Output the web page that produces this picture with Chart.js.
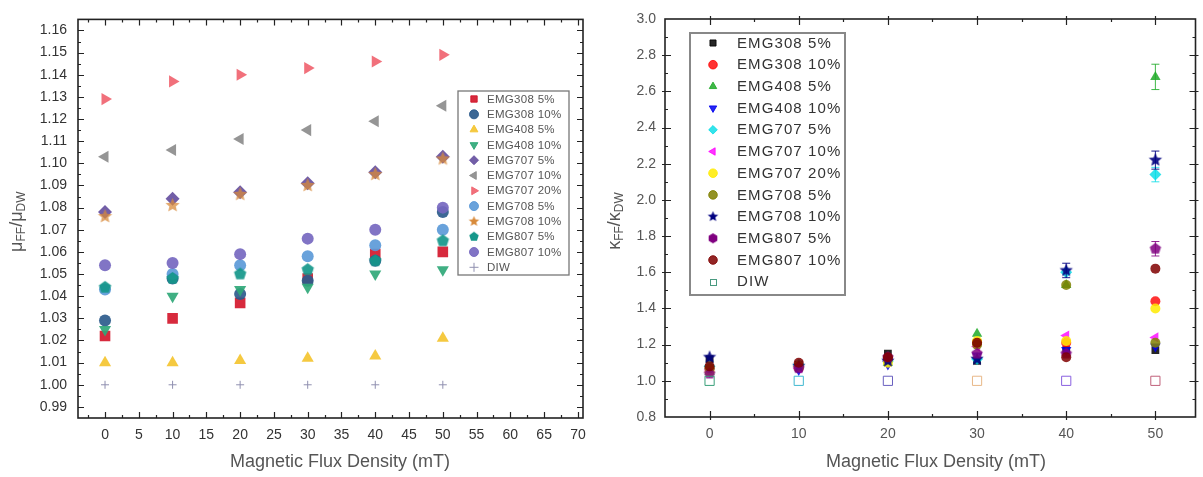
<!DOCTYPE html>
<html><head><meta charset="utf-8">
<script src="https://cdn.jsdelivr.net/npm/chart.js@4.4.0/dist/chart.umd.min.js"></script>
<style>
html,body{margin:0;padding:0;background:#fff;}
#wrap{position:relative;width:1203px;height:477px;background:#fff;}
canvas{position:absolute;top:0;}
#c1{left:0;} #c2{left:600px;}
</style></head><body>
<div id="wrap"><canvas id="c1" width="600" height="477"></canvas><canvas id="c2" width="603" height="477"></canvas></div>
<script>
// ---------- DATA ----------
const fieldMT = [0, 10, 20, 30, 40, 50];
const seriesNames = ['EMG308 5%','EMG308 10%','EMG408 5%','EMG408 10%','EMG707 5%','EMG707 10%','EMG707 20%','EMG708 5%','EMG708 10%','EMG807 5%','EMG807 10%','DIW'];

// viscosity ratio mu_FF / mu_DW (left)
const mu_EMG308_5  = [1.022, 1.030, 1.037, 1.048, 1.059, 1.060];
const mu_EMG308_10 = [1.029, 1.048, 1.041, 1.047, 1.056, 1.078];
const mu_EMG408_5  = [1.010, 1.010, 1.011, 1.012, 1.013, 1.021];
const mu_EMG408_10 = [1.025, 1.040, 1.043, 1.044, 1.050, 1.052];
const mu_EMG707_5  = [1.078, 1.084, 1.087, 1.091, 1.096, 1.103];
const mu_EMG707_10 = [1.103, 1.106, 1.111, 1.115, 1.119, 1.126];
const mu_EMG707_20 = [1.129, 1.137, 1.140, 1.143, 1.146, 1.149];
const mu_EMG708_5  = [1.043, 1.050, 1.054, 1.058, 1.063, 1.070];
const mu_EMG708_10 = [1.076, 1.081, 1.086, 1.090, 1.095, 1.102];
const mu_EMG807_5  = [1.044, 1.048, 1.050, 1.052, 1.056, 1.065];
const mu_EMG807_10 = [1.054, 1.055, 1.059, 1.066, 1.070, 1.080];
const mu_DIW       = [1.000, 1.000, 1.000, 1.000, 1.000, 1.000];

// thermal conductivity ratio k_FF / k_DW (right)
const k_EMG308_5  = [1.12, 1.09, 1.15, 1.11, 1.17, 1.17];
const k_EMG308_10 = [1.07, 1.07, 1.12, 1.21, 1.21, 1.44];
const k_EMG408_5  = [1.05, 1.08, 1.10, 1.26, 1.53, 2.68];
const k_EMG408_10 = [1.05, 1.06, 1.09, 1.14, 1.17, 1.19];
const k_EMG707_5  = [1.08, 1.09, 1.11, 1.12, 1.60, 2.14];
const k_EMG707_10 = [1.06, 1.07, 1.11, 1.19, 1.25, 1.24];
const k_EMG707_20 = [1.05, 1.08, 1.10, 1.22, 1.22, 1.40];
const k_EMG708_5  = [1.07, 1.08, 1.12, 1.20, 1.53, 1.21];
const k_EMG708_10 = [1.13, 1.08, 1.11, 1.12, 1.61, 2.22];
const k_EMG807_5  = [1.04, 1.07, 1.13, 1.15, 1.15, 1.73];
const k_EMG807_10 = [1.08, 1.10, 1.13, 1.21, 1.13, 1.62];
const k_DIW       = [1.00, 1.00, 1.00, 1.00, 1.00, 1.00];

// error bars of k ratio
const kErr_EMG408_5  = [0.02, 0.02, 0.02, 0.03, 0.03, 0.07];
const kErr_EMG707_5  = [0.02, 0.02, 0.02, 0.02, 0.03, 0.04];
const kErr_EMG708_10 = [0.02, 0.02, 0.02, 0.02, 0.04, 0.05];
const kErr_EMG807_5  = [0.02, 0.02, 0.02, 0.02, 0.02, 0.04];
const kErr_EMG807_10 = [0.02, 0.02, 0.02, 0.02, 0.02, 0.03];
const kErr_default   = [0.02, 0.02, 0.02, 0.02, 0.02, 0.02];

// tick labels
const muXTicks = [0,5,10,15,20,25,30,35,40,45,50,55,60,65,70];
const muYTicks = [0.99,1.00,1.01,1.02,1.03,1.04,1.05,1.06,1.07,1.08,1.09,1.10,1.11,1.12,1.13,1.14,1.15,1.16];
const kXTicks = [0,10,20,30,40,50];
const kYTicks = [0.8,1.0,1.2,1.4,1.6,1.8,2.0,2.2,2.4,2.6,2.8,3.0];

// ---------- HELPERS ----------
const FONT = "'Liberation Sans', Arial, sans-serif";
function steps(a, b, s) { const out = []; const n = Math.round((b - a) / s); for (let i = 0; i <= n; i++) out.push(+(a + i * s).toFixed(4)); return out; }
function makePoly(color, r, n, rot) {
  const s = Math.ceil(2 * r + 2); const c = document.createElement('canvas'); c.width = c.height = s;
  const g = c.getContext('2d'); g.fillStyle = color; g.beginPath();
  for (let k = 0; k < n; k++) { const a = (rot || -Math.PI / 2) + k * 2 * Math.PI / n; g.lineTo(s / 2 + r * Math.cos(a), s / 2 + r * Math.sin(a)); }
  g.closePath(); g.fill(); return c;
}
function makeStar(color, r) {
  const s = Math.ceil(2 * r + 2); const c = document.createElement('canvas'); c.width = c.height = s;
  const g = c.getContext('2d'); g.fillStyle = color; g.beginPath();
  for (let k = 0; k < 10; k++) { const rr = k % 2 ? r * 0.45 : r; const a = -Math.PI / 2 + k * Math.PI / 5; g.lineTo(s / 2 + rr * Math.cos(a), s / 2 + rr * Math.sin(a)); }
  g.closePath(); g.fill(); return c;
}
function mk(i, label, vals, style, color, radius, extra) {
  return Object.assign({
    label, order: -i,
    data: fieldMT.map((x, j) => ({ x, y: vals[j] })),
    pointStyle: style, pointRadius: radius, pointHoverRadius: radius,
    backgroundColor: color, borderColor: color, borderWidth: 0, pointRotation: 0, showLine: false
  }, extra || {});
}

// ---------- PLUGINS ----------
const framePlugin = {
  id: 'frameTicks',
  afterDraw(chart, args, o) {
    const { ctx, chartArea: a, scales: { x, y } } = chart;
    ctx.save();
    ctx.strokeStyle = o.color; ctx.lineWidth = 1.2;
    const tick = (vals, len, isX, out) => {
      vals.forEach(v => {
        ctx.beginPath();
        if (isX) {
          const px = Math.round(x.getPixelForValue(v)) + 0.5;
          if (px < a.left + 1 || px > a.right - 1) return;
          ctx.moveTo(px, a.bottom + out); ctx.lineTo(px, a.bottom - len);
          ctx.moveTo(px, a.top - out); ctx.lineTo(px, a.top + len);
        } else {
          const py = Math.round(y.getPixelForValue(v)) + 0.5;
          if (py < a.top + 1 || py > a.bottom - 1) return;
          ctx.moveTo(a.left - out, py); ctx.lineTo(a.left + len, py);
          ctx.moveTo(a.right + out, py); ctx.lineTo(a.right - len, py);
        }
        ctx.stroke();
      });
    };
    tick(o.xMajor, o.majorLen, true, o.out); tick(o.xMinor, o.minorLen, true, 0);
    tick(o.yMajor, o.majorLen, false, o.out); tick(o.yMinor, o.minorLen, false, 0);
    ctx.lineWidth = o.frameWidth;
    ctx.strokeRect(a.left, a.top, a.right - a.left, a.bottom - a.top);
    ctx.restore();
  }
};
const legendPlugin = {
  id: 'boxLegend',
  afterDraw(chart, args, o) {
    const ctx = chart.ctx;
    ctx.save();
    ctx.fillStyle = '#fff'; ctx.fillRect(o.x, o.y, o.w, o.h);
    ctx.strokeStyle = o.border; ctx.lineWidth = o.borderWidth; ctx.strokeRect(o.x, o.y, o.w, o.h);
    chart.data.datasets.forEach((d, i) => {
      const cy = o.firstY + i * o.rowH;
      if (d.hollow) {
        ctx.strokeStyle = d.legendColor; ctx.lineWidth = 1;
        ctx.strokeRect(Math.round(o.symX - 3) + 0.5, Math.round(cy - 3) + 0.5, 6, 6);
      } else {
        ctx.fillStyle = d.backgroundColor; ctx.strokeStyle = d.borderColor;
        ctx.lineWidth = d.borderWidth || 1;
        const style = d.legendStyle || d.pointStyle;
        Chart.helpers.drawPoint(ctx, { pointStyle: style, radius: o.radius, rotation: d.pointRotation || 0, borderWidth: d.borderWidth || 1 }, o.symX, cy);
      }
      ctx.fillStyle = o.color; ctx.font = o.font; ctx.textBaseline = 'middle'; ctx.textAlign = 'left';
      if (o.letterSpacing) ctx.letterSpacing = o.letterSpacing;
      ctx.fillText(d.label, o.textX, cy + 0.5);
      ctx.letterSpacing = '0px';
    });
    ctx.restore();
  }
};
const titlePlugin = {
  id: 'axisTitles',
  afterDraw(chart, args, o) {
    const ctx = chart.ctx; const a = chart.chartArea;
    ctx.save();
    ctx.fillStyle = o.color; ctx.textBaseline = 'middle';
    ctx.font = o.size + 'px ' + FONT; ctx.textAlign = 'center';
    ctx.fillText('Magnetic Flux Density (mT)', o.xTitleX, o.xTitleY);
    ctx.translate(o.yTitleX, (a.top + a.bottom) / 2 + o.yShift);
    ctx.rotate(-Math.PI / 2);
    const big = o.size + 'px ' + FONT, small = Math.round(o.size * 0.68) + 'px ' + FONT;
    const parts = [[o.sym, big, 0], ['FF', small, 5], ['/', big, 0], [o.sym, big, 0], ['DW', small, 5]];
    let tw = 0; parts.forEach(p => { ctx.font = p[1]; tw += ctx.measureText(p[0]).width; });
    let cx = -tw / 2; ctx.textAlign = 'left';
    parts.forEach(p => { ctx.font = p[1]; ctx.fillText(p[0], cx, p[2]); cx += ctx.measureText(p[0]).width; });
    ctx.restore();
  }
};
const errorPlugin = {
  id: 'errBars',
  afterDatasetsDraw(chart) {
    const ctx = chart.ctx; const y = chart.scales.y;
    ctx.save(); ctx.lineWidth = 1;
    chart.data.datasets.forEach((d, i) => {
      if (!d.errors) return;
      const meta = chart.getDatasetMeta(i);
      meta.data.forEach((pt, j) => {
        const v = d.data[j].y, e = d.errors[j];
        const y1 = y.getPixelForValue(v + e), y2 = y.getPixelForValue(v - e);
        if ((y2 - y1) / 2 < d.pointRadius + 1) return; // hidden under the marker
        ctx.strokeStyle = d.borderColor;
        ctx.beginPath();
        ctx.moveTo(pt.x, y1); ctx.lineTo(pt.x, y2);
        ctx.moveTo(pt.x - 4, y1); ctx.lineTo(pt.x + 4, y1);
        ctx.moveTo(pt.x - 4, y2); ctx.lineTo(pt.x + 4, y2);
        ctx.stroke();
      });
    });
    ctx.restore();
  }
};

// ---------- LEFT CHART ----------
const muVals = [mu_EMG308_5, mu_EMG308_10, mu_EMG408_5, mu_EMG408_10, mu_EMG707_5, mu_EMG707_10, mu_EMG707_20, mu_EMG708_5, mu_EMG708_10, mu_EMG807_5, mu_EMG807_10, mu_DIW];
const R1 = 6;
const leftDs = [
  mk(0, seriesNames[0], muVals[0], 'rect', 'rgba(212,24,44,0.92)', 7.5),
  mk(1, seriesNames[1], muVals[1], 'circle', 'rgba(45,91,140,0.92)', R1),
  mk(2, seriesNames[2], muVals[2], 'triangle', 'rgba(244,196,48,0.92)', 7),
  mk(3, seriesNames[3], muVals[3], 'triangle', 'rgba(48,168,120,0.92)', 7, { pointRotation: 180 }),
  mk(4, seriesNames[4], muVals[4], 'rectRot', 'rgba(102,80,160,0.92)', 7),
  mk(5, seriesNames[5], muVals[5], 'triangle', 'rgba(140,140,140,0.92)', 7, { pointRotation: 270 }),
  mk(6, seriesNames[6], muVals[6], 'triangle', 'rgba(240,100,112,0.92)', 7, { pointRotation: 90 }),
  mk(7, seriesNames[7], muVals[7], 'circle', 'rgba(92,154,216,0.92)', R1),
  mk(8, seriesNames[8], muVals[8], makeStar('rgba(216,138,58,0.75)', 7.5), 'rgba(216,138,58,0.75)', 7),
  mk(9, seriesNames[9], muVals[9], makePoly('rgba(21,151,138,0.92)', 6.5, 5), 'rgba(21,151,138,0.92)', 6),
  mk(10, seriesNames[10], muVals[10], 'circle', 'rgba(118,104,192,0.92)', R1),
  mk(11, seriesNames[11], muVals[11], 'cross', '#9090b0', 4, { borderWidth: 1 })
];
leftDs[8].legendStyle = makeStar('#d88a3a', 5.5);
leftDs[9].legendStyle = makePoly('#15978a', 5, 5);

new Chart(document.getElementById('c1'), {
  type: 'scatter',
  data: { datasets: leftDs },
  options: {
    responsive: false, animation: false, devicePixelRatio: 1,
    layout: { padding: { top: 12, right: 17, left: 0, bottom: 0 } },
    events: [],
    plugins: {
      legend: { display: false }, tooltip: { enabled: false },
      frameTicks: { color: '#222', frameWidth: 1.6, majorLen: 6, minorLen: 3, out: 0,
        xMajor: muXTicks, xMinor: steps(-2.5, 67.5, 5),
        yMajor: muYTicks, yMinor: steps(0.985, 1.165, 0.01) },
      boxLegend: { x: 458, y: 91, w: 111, h: 184, firstY: 99, rowH: 15.3, symX: 474, textX: 487, radius: 4.5,
        font: '11.5px ' + FONT, color: '#555', border: '#777', borderWidth: 1.3, letterSpacing: '0.3px' },
      axisTitles: { color: '#555', size: 18, xTitleX: 340, xTitleY: 462, yTitleX: 17, yShift: 3, sym: 'μ' }
    },
    scales: {
      x: { type: 'linear', min: -4, max: 70.75,
        grid: { display: false, drawTicks: false }, border: { display: false },
        afterBuildTicks: s => { s.ticks = muXTicks.map(v => ({ value: v })); },
        afterFit: s => { s.height = 59; },
        ticks: { padding: 9, color: '#333', font: { family: FONT, size: 14 }, maxRotation: 0, autoSkip: false, callback: v => String(v) } },
      y: { type: 'linear', min: 0.985, max: 1.165,
        grid: { display: false, drawTicks: false }, border: { display: false },
        afterBuildTicks: s => { s.ticks = muYTicks.map(v => ({ value: v })); },
        afterFit: s => { s.width = 78; },
        ticks: { padding: 11, color: '#333', font: { family: FONT, size: 14 }, autoSkip: false, callback: v => v.toFixed(2) } }
    }
  },
  plugins: [errorPlugin, framePlugin, legendPlugin, titlePlugin]
});

// ---------- RIGHT CHART ----------
const kVals = [k_EMG308_5, k_EMG308_10, k_EMG408_5, k_EMG408_10, k_EMG707_5, k_EMG707_10, k_EMG707_20, k_EMG708_5, k_EMG708_10, k_EMG807_5, k_EMG807_10, k_DIW];
const kErrs = [kErr_default, kErr_default, kErr_EMG408_5, kErr_default, kErr_EMG707_5, kErr_default, kErr_default, kErr_default, kErr_EMG708_10, kErr_EMG807_5, kErr_EMG807_10, null];
const R2 = 5;
const rightDs = [
  mk(0, seriesNames[0], kVals[0], 'rect', 'rgba(0,0,0,0.85)', 5.5),
  mk(1, seriesNames[1], kVals[1], 'circle', 'rgba(255,0,0,0.8)', R2),
  mk(2, seriesNames[2], kVals[2], 'triangle', 'rgba(30,170,40,0.85)', 6),
  mk(3, seriesNames[3], kVals[3], 'triangle', 'rgba(0,0,240,0.85)', 6, { pointRotation: 180 }),
  mk(4, seriesNames[4], kVals[4], 'rectRot', 'rgba(0,220,230,0.8)', 6),
  mk(5, seriesNames[5], kVals[5], 'triangle', 'rgba(255,0,255,0.8)', 6, { pointRotation: 270 }),
  mk(6, seriesNames[6], kVals[6], 'circle', 'rgba(255,235,0,0.85)', R2),
  mk(7, seriesNames[7], kVals[7], 'circle', 'rgba(128,128,0,0.85)', R2),
  mk(8, seriesNames[8], kVals[8], makeStar('rgba(0,0,128,0.9)', 7), 'rgba(0,0,128,0.9)', 6),
  mk(9, seriesNames[9], kVals[9], makePoly('rgba(128,0,128,0.85)', 6, 5), 'rgba(128,0,128,0.85)', 5.5),
  mk(10, seriesNames[10], kVals[10], 'circle', 'rgba(128,0,0,0.85)', R2),
  mk(11, seriesNames[11], kVals[11], 'rect', 'rgba(0,0,0,0)', 6.5,
    { borderWidth: 1, borderColor: ['#3aa07a', '#40b8d0', '#6a60c0', '#e8b888', '#8a60e0', '#c0607a'], legendColor: '#4a9a80', hollow: true })
];
rightDs.forEach((d, i) => { if (kErrs[i]) d.errors = kErrs[i]; });
rightDs[8].legendStyle = makeStar('#000080', 5.5);
rightDs[9].legendStyle = makePoly('#800080', 5, 6);

new Chart(document.getElementById('c2'), {
  type: 'scatter',
  data: { datasets: rightDs },
  options: {
    responsive: false, animation: false, devicePixelRatio: 1,
    layout: { padding: { top: 19, right: 2, left: 0, bottom: 0 } },
    events: [],
    plugins: {
      legend: { display: false }, tooltip: { enabled: false },
      frameTicks: { color: '#222', frameWidth: 1.6, majorLen: 6, minorLen: 3, out: 3,
        xMajor: kXTicks, xMinor: steps(5, 45, 10),
        yMajor: kYTicks, yMinor: steps(0.9, 2.9, 0.2) },
      boxLegend: { x: 90, y: 33, w: 155, h: 262, firstY: 43, rowH: 21.7, symX: 113, textX: 137, radius: 4.3,
        font: '15px ' + FONT, color: '#333', border: '#888', borderWidth: 2, letterSpacing: '1.1px' },
      axisTitles: { color: '#555', size: 18, xTitleX: 336, xTitleY: 462, yTitleX: 15, yShift: 3, sym: 'κ' }
    },
    scales: {
      x: { type: 'linear', min: -5, max: 54.5,
        grid: { display: false, drawTicks: false }, border: { display: false },
        afterBuildTicks: s => { s.ticks = kXTicks.map(v => ({ value: v })); },
        afterFit: s => { s.height = 60; },
        ticks: { padding: 9, color: '#555', font: { family: FONT, size: 14 }, maxRotation: 0, autoSkip: false, callback: v => String(v) } },
      y: { type: 'linear', min: 0.8, max: 3.0,
        grid: { display: false, drawTicks: false }, border: { display: false },
        afterBuildTicks: s => { s.ticks = kYTicks.map(v => ({ value: v })); },
        afterFit: s => { s.width = 65; },
        ticks: { padding: 9, color: '#555', font: { family: FONT, size: 14 }, autoSkip: false, callback: v => v.toFixed(1) } }
    }
  },
  plugins: [errorPlugin, framePlugin, legendPlugin, titlePlugin]
});
</script>
</body></html>
